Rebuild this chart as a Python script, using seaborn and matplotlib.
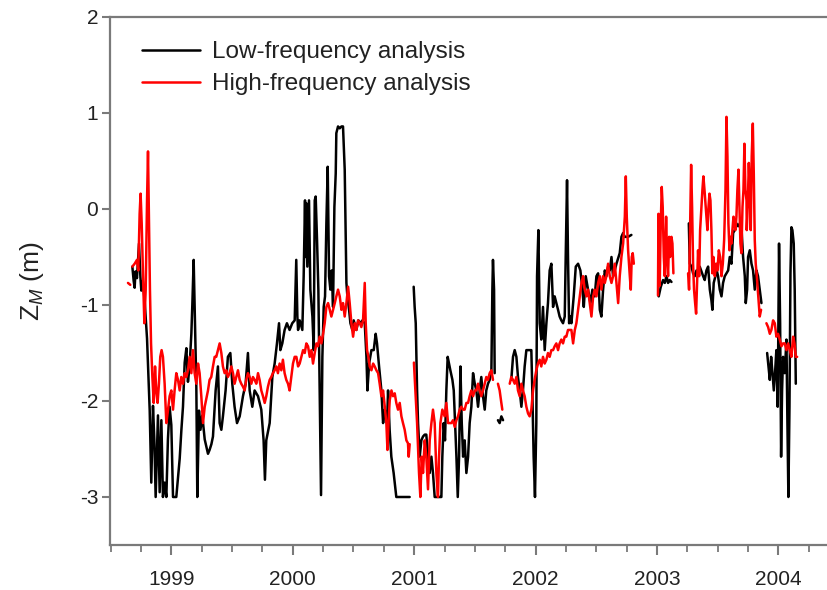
import numpy as np
import pandas as pd
import matplotlib
matplotlib.use("Agg")
import matplotlib.pyplot as plt
import seaborn as sns
from matplotlib.ticker import MultipleLocator, FixedLocator
from matplotlib.lines import Line2D

nan = np.nan

# ---------------- data (decimal year, Z_M in m); nan = gap in record ----------------
low_t = [
    1998.679, 1998.690, 1998.698, 1998.705, 1998.717, 1998.727, 1998.734, 1998.745, 1998.753, 1998.765,
    1998.780, 1998.800, 1998.810, 1998.822, 1998.835, 1998.849, 1998.860, 1998.871, 1998.880, 1998.890,
    1998.904, 1998.918, 1998.931, 1998.945, 1998.959, 1998.972, 1998.986, 1999.000, 1999.014, 1999.027,
    1999.041, 1999.055, 1999.069, 1999.083, 1999.096, 1999.110, 1999.124, 1999.137, 1999.150, 1999.165,
    1999.173, 1999.184, 1999.195, 1999.206, 1999.214, 1999.228, 1999.240, 1999.255, 1999.275, 1999.302,
    1999.315, 1999.330, 1999.343, 1999.365, 1999.384, 1999.398, 1999.412, 1999.425, 1999.447, 1999.466,
    1999.486, 1999.502, 1999.521, 1999.541, 1999.563, 1999.590, 1999.612, 1999.631, 1999.645, 1999.667,
    1999.686, 1999.714, 1999.741, 1999.760, 1999.771, 1999.782, 1999.810, 1999.832, 1999.851, 1999.870,
    1999.887, 1999.898, 1999.914, 1999.933, 1999.952, 1999.974, 1999.996, 2000.016, 2000.029, 2000.038,
    2000.044, 2000.057, 2000.079, 2000.090, 2000.101, 2000.106, 2000.112, 2000.120, 2000.126, 2000.134,
    2000.145, 2000.162, 2000.173, 2000.181, 2000.189, 2000.200, 2000.211, 2000.222, 2000.233, 2000.244,
    2000.255, 2000.266, 2000.277, 2000.288, 2000.299, 2000.310, 2000.321, 2000.332, 2000.343, 2000.354,
    2000.359, 2000.373, 2000.387, 2000.401, 2000.414, 2000.428, 2000.442, 2000.450, 2000.464, 2000.475,
    2000.491, 2000.502, 2000.524, 2000.541, 2000.557, 2000.574, 2000.593, 2000.607, 2000.615, 2000.629,
    2000.648, 2000.667, 2000.683, 2000.694, 2000.711, 2000.730, 2000.744, 2000.758, 2000.777, 2000.785,
    2000.798, 2000.812, 2000.831, 2000.853, 2000.963, nan,
    2000.996, 2001.004, 2001.013, 2001.024, 2001.032, 2001.046, 2001.059, 2001.073, 2001.087, 2001.100,
    2001.114, 2001.128, 2001.142, 2001.155, 2001.169, 2001.190, 2001.210, 2001.224, 2001.232, 2001.243,
    2001.254, 2001.265, 2001.276, 2001.287, 2001.298, 2001.315, 2001.326, 2001.337, 2001.348, 2001.359,
    2001.370, 2001.381, 2001.392, 2001.403, 2001.416, 2001.430, 2001.444, 2001.457, 2001.471, 2001.485,
    2001.499, 2001.512, 2001.526, 2001.539, 2001.553, 2001.567, 2001.581, 2001.594, 2001.608, 2001.622,
    2001.636, 2001.644, 2001.649, 2001.658, 2001.663, nan,
    2001.690, 2001.704, 2001.718, 2001.732, nan,
    2001.800, 2001.814, 2001.828, 2001.842, 2001.855, 2001.869, 2001.883, 2001.896, 2001.910, 2001.924,
    2001.951, 2001.965, 2001.973, 2001.984, 2001.995, 2002.006, 2002.012, 2002.023, 2002.034, 2002.047,
    2002.061, 2002.075, 2002.089, 2002.102, 2002.116, 2002.130, 2002.144, 2002.157, 2002.171, 2002.185,
    2002.198, 2002.212, 2002.226, 2002.240, 2002.248, 2002.259, 2002.267, 2002.276, 2002.287, 2002.295,
    2002.314, 2002.331, 2002.350, 2002.369, 2002.386, 2002.397, 2002.413, 2002.432, 2002.452, 2002.468,
    2002.487, 2002.501, 2002.515, 2002.529, 2002.542, 2002.556, 2002.570, 2002.583, 2002.597, 2002.611,
    2002.625, 2002.638, 2002.652, 2002.666, 2002.693, 2002.707, 2002.721, 2002.734, 2002.762, 2002.789, nan,
    2003.014, 2003.031, 2003.050, 2003.064, 2003.078, 2003.091, 2003.105, 2003.119, nan,
    2003.262, 2003.270, 2003.284, 2003.297, 2003.311, 2003.325, 2003.338, 2003.352, 2003.366, 2003.380,
    2003.393, 2003.407, 2003.421, 2003.435, 2003.448, 2003.456, 2003.467, 2003.481, 2003.492, 2003.503,
    2003.517, 2003.531, 2003.544, 2003.558, 2003.572, 2003.586, 2003.599, 2003.613, 2003.627, 2003.640,
    2003.654, 2003.668, 2003.682, 2003.695, 2003.709, 2003.723, 2003.731, 2003.742, 2003.750, 2003.764,
    2003.778, 2003.791, 2003.805, 2003.819, 2003.832, 2003.846, 2003.860, nan,
    2003.907, 2003.918, 2003.929, 2003.940, 2003.951, 2003.962, 2003.972, 2003.983, 2003.994, 2004.005,
    2004.014, 2004.022, 2004.030, 2004.038, 2004.052, 2004.066, 2004.074, 2004.082, 2004.091, 2004.099,
    2004.107, 2004.115, 2004.126, 2004.134, 2004.143,
]
low_z = [
    -0.60, -0.75, -0.82, -0.65, -0.72, -0.50, -0.36, -0.70, -0.85, -0.75,
    -0.95, -1.35, -1.70, -2.10, -2.85, -2.05, -2.40, -3.00, -2.60, -2.15,
    -2.95, -2.20, -3.00, -2.85, -3.00, -2.40, -2.06, -2.25, -3.00, -3.00,
    -3.00, -2.80, -2.60, -2.30, -2.06, -1.60, -1.45, -1.80, -1.65, -1.30,
    -1.00, -0.53, -1.20, -1.85, -3.00, -2.10, -2.30, -2.15, -2.40, -2.55,
    -2.51, -2.45, -2.37, -1.89, -1.64, -2.23, -2.30, -2.16, -1.89, -1.54,
    -1.50, -1.82, -2.06, -2.23, -2.16, -1.95, -1.82, -1.50, -1.89, -2.06,
    -1.89, -1.95, -2.09, -2.41, -2.82, -2.41, -2.23, -1.75, -1.61, -1.40,
    -1.19, -1.47, -1.40, -1.26, -1.19, -1.26, -1.19, -1.16, -0.53, -1.12,
    -1.26, -1.16, -1.26, -0.70, 0.09, -0.50, 0.06, -0.60, -0.32, 0.09,
    -0.84, -1.12, -1.47, 0.09, 0.13, -0.32, -0.84, -1.89, -2.98, -1.54,
    -1.02, -0.91, -0.15, 0.44, -0.70, -0.84, -0.64, -1.02, 0.02, 0.37,
    0.79, 0.86, 0.84, 0.86, 0.86, 0.41, -0.77, -0.91, -1.05, -1.19,
    -1.26, -1.16, -1.26, -1.16, -1.19, -1.16, -1.19, -1.54, -1.89, -1.61,
    -1.47, -1.47, -1.30, -1.40, -1.64, -1.89, -2.23, -2.09, -2.23, -1.89,
    -2.30, -2.58, -2.75, -3.00, -3.00, nan,
    -0.81, -1.02, -1.19, -1.89, -2.23, -2.58, -2.41, -2.37, -2.35, -2.35,
    -2.58, -2.75, -2.58, -2.75, -3.00, -3.00, -3.00, -3.00, -2.58, -2.23,
    -2.41, -1.89, -1.54, -1.61, -1.68, -1.78, -1.89, -2.23, -2.58, -3.00,
    -2.58, -1.64, -2.23, -2.58, -2.41, -2.75, -2.58, -2.23, -2.06, -1.71,
    -1.82, -1.89, -2.06, -1.89, -1.75, -1.95, -2.09, -1.89, -1.82, -1.78,
    -1.68, -0.84, -0.53, -0.84, -1.71, nan,
    -2.20, -2.23, -2.16, -2.20, nan,
    -1.78, -1.54, -1.47, -1.54, -1.75, -1.89, -2.06, -1.89, -1.64, -1.47,
    -1.47, -1.47, -1.89, -2.58, -3.00, -2.23, -0.70, -0.22, -1.19, -1.36,
    -1.02, -1.47, -1.19, -0.98, -0.64, -0.57, -1.02, -0.91, -0.98, -1.05,
    -1.12, -1.16, -1.19, -1.12, -0.50, 0.30, -0.50, -1.19, -1.12, -1.19,
    -0.91, -0.60, -0.57, -0.64, -0.84, -1.02, -0.70, -0.84, -0.98, -0.84,
    -0.91, -0.70, -0.67, -1.05, -1.12, -0.84, -0.64, -0.70, -0.60, -0.64,
    -0.50, -0.70, -0.64, -0.57, -0.46, -0.29, -0.25, -0.29, -0.29, -0.27, nan,
    -0.91, -0.81, -0.74, -0.77, -0.70, -0.77, -0.74, -0.76, nan,
    -0.15, -0.57, -0.60, -0.67, -0.70, -0.64, -0.67, -0.60, -0.65, -0.70,
    -0.74, -0.64, -0.60, -0.84, -0.95, -1.05, -0.77, -0.70, -0.64, -0.70,
    -0.84, -0.91, -0.77, -0.70, -0.67, -0.64, -0.50, -0.57, -0.25, -0.22,
    -0.15, -0.18, -0.15, -0.18, -0.50, -0.70, -0.98, -0.84, -0.50, -0.43,
    -0.57, -0.64, -0.84, -0.64, -0.70, -0.84, -0.98, nan,
    -1.50, -1.64, -1.78, -1.54, -1.71, -1.89, -1.71, -1.47, -2.06, -0.36,
    -1.19, -2.58, -1.89, -1.54, -1.71, -1.36, -2.23, -3.00, -2.06, -0.67,
    -0.19, -0.22, -0.36, -0.84, -1.82,
]

high_t = [
    1998.643, 1998.662, nan,
    1998.679, 1998.698, 1998.717, 1998.728, 1998.739, 1998.747, 1998.756, 1998.767, 1998.778, 1998.789,
    1998.800, 1998.808, 1998.816, 1998.824, 1998.833, 1998.844, 1998.855, 1998.866, 1998.876, 1998.887,
    1998.898, 1998.909, 1998.920, 1998.931, 1998.945, 1998.959, 1998.973, 1998.986, 1999.000, 1999.014,
    1999.027, 1999.041, 1999.055, 1999.069, 1999.082, 1999.096, 1999.110, 1999.124, 1999.137, 1999.151,
    1999.165, 1999.178, 1999.192, 1999.206, 1999.220, 1999.233, 1999.247, 1999.261, 1999.275, 1999.288,
    1999.302, 1999.315, 1999.329, 1999.343, 1999.357, 1999.370, 1999.384, 1999.398, 1999.412, 1999.425,
    1999.439, 1999.453, 1999.466, 1999.480, 1999.494, 1999.508, 1999.521, 1999.535, 1999.549, 1999.563,
    1999.576, 1999.590, 1999.604, 1999.617, 1999.631, 1999.645, 1999.659, 1999.672, 1999.686, 1999.700,
    1999.714, 1999.727, 1999.741, 1999.755, 1999.769, 1999.782, 1999.796, 1999.810, 1999.823, 1999.837,
    1999.851, 1999.865, 1999.878, 1999.892, 1999.906, 1999.919, 1999.933, 1999.947, 1999.961, 1999.974,
    1999.988, 2000.002, 2000.016, 2000.030, 2000.044, 2000.057, 2000.071, 2000.085, 2000.099, 2000.112,
    2000.126, 2000.140, 2000.154, 2000.167, 2000.181, 2000.195, 2000.208, 2000.222, 2000.236, 2000.250,
    2000.263, 2000.277, 2000.291, 2000.305, 2000.318, 2000.332, 2000.346, 2000.359, 2000.373, 2000.387,
    2000.401, 2000.414, 2000.428, 2000.442, 2000.456, 2000.469, 2000.483, 2000.497, 2000.511, 2000.524,
    2000.538, 2000.552, 2000.565, 2000.579, 2000.593, 2000.601, 2000.612, 2000.623, 2000.634, 2000.648,
    2000.662, 2000.675, 2000.689, 2000.703, 2000.716, 2000.730, 2000.744, 2000.758, 2000.771, 2000.780,
    2000.791, 2000.799, 2000.813, 2000.826, 2000.840, 2000.853, 2000.867, 2000.881, 2000.895, 2000.908,
    2000.922, 2000.936, 2000.949, 2000.955, 2000.963, nan,
    2000.998, 2001.024, 2001.040, 2001.051, 2001.062, 2001.073, 2001.087, 2001.100, 2001.114, 2001.128,
    2001.142, 2001.155, 2001.169, 2001.183, 2001.196, 2001.205, 2001.216, 2001.232, 2001.251, 2001.265,
    2001.279, 2001.293, 2001.306, 2001.320, 2001.334, 2001.348, 2001.361, 2001.375, 2001.389, 2001.403,
    2001.416, 2001.430, 2001.444, 2001.457, 2001.471, 2001.485, 2001.499, 2001.512, 2001.526, 2001.539,
    2001.553, 2001.567, 2001.581, 2001.594, 2001.608, 2001.622, 2001.636, 2001.649, nan,
    2001.690, 2001.704, 2001.718, 2001.726, nan,
    2001.787, 2001.800, 2001.814, 2001.828, 2001.842, 2001.855, 2001.869, 2001.883, 2001.896, 2001.910,
    2001.924, 2001.938, 2001.951, 2001.965, 2001.979, 2001.992, 2002.006, 2002.020, 2002.034, 2002.047,
    2002.061, 2002.075, 2002.089, 2002.102, 2002.116, 2002.130, 2002.144, 2002.157, 2002.171, 2002.185,
    2002.198, 2002.212, 2002.226, 2002.240, 2002.253, 2002.267, 2002.281, 2002.295, 2002.309, 2002.323,
    2002.336, 2002.350, 2002.364, 2002.378, 2002.391, 2002.405, 2002.419, 2002.432, 2002.446, 2002.460,
    2002.474, 2002.487, 2002.501, 2002.515, 2002.529, 2002.542, 2002.556, 2002.570, 2002.583, 2002.597,
    2002.611, 2002.625, 2002.638, 2002.652, 2002.666, 2002.680, 2002.693, 2002.707, 2002.721, 2002.735,
    2002.743, 2002.751, 2002.762, 2002.776, 2002.784, 2002.792, 2002.800, 2002.809, nan,
    2003.008, 2003.012, 2003.022, 2003.031, 2003.039, 2003.047, 2003.056, 2003.064, 2003.075, 2003.083,
    2003.091, 2003.100, 2003.108, 2003.119, 2003.127, 2003.135, nan,
    2003.256, 2003.264, 2003.273, 2003.281, 2003.289, 2003.297, 2003.305, 2003.314, 2003.322, 2003.330,
    2003.338, 2003.347, 2003.355, 2003.366, 2003.374, 2003.382, 2003.391, 2003.399, 2003.407, 2003.415,
    2003.424, 2003.432, 2003.440, 2003.448, 2003.456, 2003.465, 2003.476, 2003.487, 2003.498, 2003.509,
    2003.520, 2003.531, 2003.542, 2003.553, 2003.564, 2003.572, 2003.580, 2003.588, 2003.597, 2003.605,
    2003.613, 2003.621, 2003.630, 2003.638, 2003.646, 2003.654, 2003.662, 2003.671, 2003.679, 2003.687,
    2003.695, 2003.704, 2003.712, 2003.720, 2003.728, 2003.737, 2003.739, 2003.747, 2003.756, 2003.764,
    2003.772, 2003.780, 2003.789, 2003.797, 2003.805, 2003.813, 2003.822, 2003.830, 2003.838, 2003.846,
    2003.857, nan,
    2003.901, 2003.915, 2003.929, 2003.942, 2003.956, 2003.970, 2003.983, 2003.997, 2004.011, 2004.025,
    2004.038, 2004.052, 2004.066, 2004.080, 2004.093, 2004.107, 2004.121, 2004.132, 2004.143, 2004.154,
]
high_z = [
    -0.77, -0.79, nan,
    -0.60, -0.57, -0.53, -0.64, -0.05, 0.16, -0.15, -0.70, -1.19, -0.84,
    0.09, 0.60, -0.15, -0.84, -1.40, -1.75, -2.02, -1.64, -1.89, -2.02,
    -1.82, -1.54, -1.47, -1.54, -1.82, -2.23, -2.09, -1.95, -1.89, -2.09,
    -1.89, -1.71, -1.78, -1.89, -1.75, -1.82, -1.71, -1.75, -1.68, -1.54,
    -1.71, -1.47, -1.71, -1.82, -1.61, -1.71, -1.95, -2.23, -2.06, -1.98,
    -1.89, -1.78, -1.75, -1.64, -1.54, -1.54, -1.47, -1.40, -1.50, -1.64,
    -1.71, -1.68, -1.75, -1.71, -1.64, -1.71, -1.82, -1.75, -1.68, -1.78,
    -1.82, -1.85, -1.89, -1.78, -1.71, -1.75, -1.82, -1.75, -1.78, -1.82,
    -1.71, -1.78, -1.89, -1.95, -2.02, -1.95, -1.85, -1.78, -1.75, -1.71,
    -1.68, -1.64, -1.71, -1.61, -1.68, -1.57, -1.71, -1.78, -1.82, -1.89,
    -1.75, -1.61, -1.54, -1.54, -1.64, -1.61, -1.54, -1.47, -1.50, -1.40,
    -1.43, -1.54, -1.47, -1.61, -1.50, -1.40, -1.43, -1.33, -1.40, -1.30,
    -1.19, -1.02, -0.98, -1.05, -1.12, -1.05, -0.98, -0.91, -0.84, -0.91,
    -1.05, -0.98, -1.12, -0.98, -0.81, -0.98, -1.19, -1.33, -1.19, -1.26,
    -1.16, -1.19, -1.23, -1.16, -0.77, -1.19, -1.47, -1.54, -1.64, -1.68,
    -1.61, -1.64, -1.68, -1.71, -1.82, -1.95, -1.89, -2.06, -2.23, -2.51,
    -2.16, -1.99, -1.89, -1.95, -1.92, -2.02, -2.09, -2.02, -2.16, -2.23,
    -2.30, -2.41, -2.44, -2.58, -2.45, nan,
    -1.60, -2.23, -2.75, -3.00, -2.58, -2.75, -2.41, -2.58, -2.92, -2.41,
    -2.23, -2.09, -2.23, -2.75, -3.00, -2.58, -2.23, -2.09, -2.16, -2.02,
    -2.23, -2.23, -2.23, -2.20, -2.27, -2.20, -2.16, -2.09, -2.06, -2.09,
    -2.09, -2.02, -2.02, -1.95, -1.89, -1.95, -1.89, -1.89, -1.82, -1.89,
    -1.95, -1.89, -1.82, -1.75, -1.78, -1.71, -1.68, -1.78, nan,
    -1.82, -1.89, -2.02, -2.09, nan,
    -1.82, -1.75, -1.78, -1.82, -1.75, -1.89, -1.95, -1.82, -1.89, -1.95,
    -2.06, -2.13, -2.16, -2.09, -1.89, -1.78, -1.68, -1.61, -1.57, -1.64,
    -1.54, -1.61, -1.57, -1.50, -1.54, -1.47, -1.47, -1.43, -1.40, -1.47,
    -1.40, -1.36, -1.40, -1.33, -1.33, -1.26, -1.26, -1.26, -1.40, -1.26,
    -1.19, -1.05, -0.91, -0.77, -0.70, -0.84, -0.91, -0.84, -0.98, -1.12,
    -0.91, -0.84, -0.91, -0.77, -0.70, -0.84, -0.70, -0.77, -0.70, -0.57,
    -0.70, -0.77, -0.70, -0.57, -0.77, -0.98, -0.70, -0.50, -0.36, -0.08,
    0.34, -0.08, -0.43, -0.70, -0.84, -0.50, -0.46, -0.57, nan,
    -0.90, -0.05, -0.80, -0.15, 0.23, 0.02, -0.50, -0.70, -0.08, -0.50,
    -0.70, -0.29, -0.50, -0.29, -0.36, -0.67, nan,
    -0.67, -0.84, -0.15, 0.46, 0.02, -0.57, -0.84, -0.98, -1.09, -0.77,
    -0.43, -0.70, -0.22, 0.02, 0.20, 0.34, 0.20, 0.06, -0.08, -0.22,
    0.02, 0.16, 0.09, -0.22, -0.67, -0.50, -0.70, -0.57, -0.64, -0.43,
    -0.50, -0.70, -0.57, -0.32, 0.20, 0.96, 0.55, -0.15, -0.43, -0.29,
    -0.36, -0.22, -0.08, -0.15, -0.22, -0.08, 0.20, 0.41, 0.02, -0.36,
    -0.46, 0.02, 0.20, 0.68, 0.20, 0.09, -0.22, 0.02, 0.48, 0.20,
    -0.22, 0.55, 0.89, 0.37, -0.32, -0.57, -0.70, -0.84, -0.98, -1.12,
    -1.05, nan,
    -1.19, -1.23, -1.30, -1.26, -1.16, -1.19, -1.33, -1.30, -1.36, -1.43,
    -1.40, -1.40, -1.47, -1.40, -1.47, -1.54, -1.33, -1.40, -1.54, -1.54,
]

year_ticks = [1999, 2000, 2001, 2002, 2003, 2004]
y_ticks = [-3, -2, -1, 0, 1, 2]
series_names = ["Low-frequency analysis", "High-frequency analysis"]
series_colors = ["#000000", "#ff0000"]


def to_frame(t, z, name):
    t = np.asarray(t, float)
    z = np.asarray(z, float)
    seg = np.cumsum(np.isnan(t))
    df = pd.DataFrame({"year": t, "zm": z, "seg": seg, "series": name})
    return df.dropna()


df = pd.concat([to_frame(low_t, low_z, series_names[0]),
                to_frame(high_t, high_z, series_names[1])], ignore_index=True)

sns.set_theme(style="ticks")
plt.rcParams["font.family"] = ["Liberation Sans", "DejaVu Sans"]
plt.rcParams["mathtext.fontset"] = "custom"
plt.rcParams["mathtext.rm"] = "Liberation Sans"
plt.rcParams["mathtext.it"] = "Liberation Sans:italic"

fig = plt.figure(figsize=(8.27, 5.90), dpi=100)
ax = fig.add_axes([110 / 827, 45 / 590, 717 / 827, 528 / 590])

sns.lineplot(data=df, x="year", y="zm", hue="series", units="seg", estimator=None,
             hue_order=series_names, palette=series_colors, linewidth=1.8,
             sort=False, ax=ax, legend=False)

ax.set_xlim(1998.495, 2004.40)
ax.set_ylim(-3.5, 2)
ax.xaxis.set_major_locator(FixedLocator(year_ticks))
ax.xaxis.set_minor_locator(MultipleLocator(0.25))
ax.yaxis.set_major_locator(FixedLocator(y_ticks))
ax.set_xticklabels([str(y) for y in year_ticks])
ax.set_yticklabels([str(v) for v in y_ticks])

spine_col = "#7a7a7a"
for s in ["left", "bottom", "top"]:
    ax.spines[s].set_color(spine_col)
    ax.spines[s].set_linewidth(1.6)
ax.spines["right"].set_visible(False)

ax.tick_params(axis="x", which="major", direction="out", length=7, width=1.5,
               color=spine_col, labelsize=15, labelcolor="#222222", pad=11, top=False)
ax.tick_params(axis="x", which="minor", direction="out", length=5, width=1.3,
               color=spine_col, top=False)
ax.tick_params(axis="y", which="major", direction="out", length=6, width=1.5,
               color=spine_col, labelsize=15, labelcolor="#222222", pad=2.5)

ax.set_xlabel("")
ax.set_ylabel(r"Z$_{\mathit{M}}$ (m)", fontsize=19, color="#222222", labelpad=24)

handles = [Line2D([0], [0], color=c, lw=1.8) for c in series_colors]
ax.legend(handles, series_names, loc="upper left", frameon=False,
          bbox_to_anchor=((142 - 110) / 717, (545 - 41) / 528), borderpad=0,
          borderaxespad=0, handlelength=2.37, handletextpad=0.5, labelspacing=0.42,
          prop={"size": 17.5}, labelcolor="#222222")

fig.savefig("out.png", dpi=100)
